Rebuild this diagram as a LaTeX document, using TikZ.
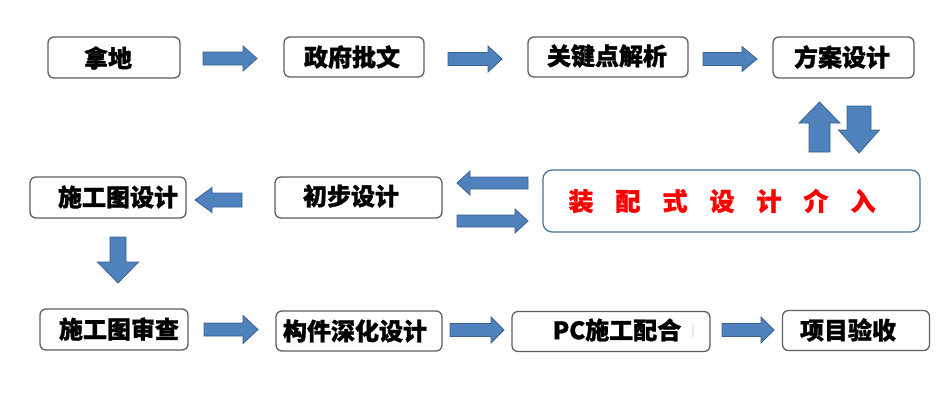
\documentclass[tikz,border=0pt]{standalone}
\usepackage{fontspec}
\newfontfamily\cjk{Noto Sans CJK SC}[BoldFeatures={FakeBold=1.2}]
\definecolor{arrowfill}{RGB}{79,129,189}
\definecolor{arrowline}{RGB}{58,98,145}
\definecolor{boxline}{RGB}{90,96,104}
\definecolor{blueline}{RGB}{65,113,156}
\newcommand\HA[6]{% xtail xbase xtip y bodyhalf headhalf
  \draw[blockarrow] (#1,#4-#5) -- (#2,#4-#5) -- (#2,#4-#6) -- (#3,#4) -- (#2,#4+#6) -- (#2,#4+#5) -- (#1,#4+#5) -- cycle;}
\newcommand\VA[6]{% ytail ybase ytip x bodyhalf headhalf
  \draw[blockarrow] (#4-#5,#1) -- (#4-#5,#2) -- (#4-#6,#2) -- (#4,#3) -- (#4+#6,#2) -- (#4+#5,#2) -- (#4+#5,#1) -- cycle;}
\begin{document}
\begin{tikzpicture}[x=1pt,y=-1pt,
  stepbox/.style={draw=boxline, line width=1.3pt, rounded corners=6pt, fill=white},
  blockarrow/.style={fill=arrowfill, draw=arrowline, line width=0.8pt, line join=miter},
  lbl/.style={font=\cjk\bfseries\fontsize{24}{26}\selectfont, text=black, inner sep=0pt}]
\useasboundingbox[fill=white] (0,0) rectangle (944,413);
% row 1
\node[stepbox, minimum width=132pt, minimum height=41pt] (nadi) at (114,57.5) {};
\node[lbl] (tnadi) at (108,58) {拿地};
\node[stepbox, minimum width=140pt, minimum height=40pt] (zhengfu) at (354,57) {};
\node[lbl] (tzhengfu) at (352,57) {政府批文};
\node[stepbox, minimum width=160pt, minimum height=40pt] (guanjian) at (608,57) {};
\node[lbl] (tguanjian) at (607,56) {关键点解析};
\node[stepbox, minimum width=141pt, minimum height=41pt] (fangan) at (843.5,57.5) {};
\node[lbl] (tfangan) at (842,57) {方案设计};
% row 2
\node[stepbox, minimum width=156pt, minimum height=41pt] (sgtsj) at (108,197.5) {};
\node[lbl] (tsgtsj) at (118,197) {施工图设计};
\node[stepbox, minimum width=167pt, minimum height=41pt] (chubu) at (358.5,197.5) {};
\node[lbl] (tchubu) at (351,196) {初步设计};
\node[draw=blueline, line width=1.2pt, rounded corners=9pt, fill=white, minimum width=377pt, minimum height=62pt] (zpsj) at (731.5,201) {};
\node[font=\cjk\bfseries\fontsize{25}{27}\selectfont, text=red, inner sep=0pt] (tzpsj) at (722,201)
  {装\hspace{22pt}配\hspace{22pt}式\hspace{22pt}设\hspace{22pt}计\hspace{22pt}介\hspace{22pt}入};
% row 3
\node[stepbox, minimum width=148pt, minimum height=41pt] (sgtsc) at (114,329.5) {};
\node[lbl] (tsgtsc) at (119,329) {施工图审查};
\node[stepbox, minimum width=166pt, minimum height=40pt] (goujian) at (359,331) {};
\node[lbl] (tgoujian) at (355,331) {构件深化设计};
\node[stepbox, minimum width=198pt, minimum height=40pt] (pc) at (611,331.5) {};
\node[lbl] (tpc) at (617,330) {PC施工配合};
\node[text=gray!60, font=\fontsize{14}{14}\selectfont, inner sep=0pt] (bar) at (693,331) {|};
\node[stepbox, minimum width=147pt, minimum height=40pt] (yanshou) at (856,330.5) {};
\node[lbl] (tyanshou) at (848,330) {项目验收};
% arrows row 1
\HA{203}{243}{257}{58.5}{6.5}{12.5}
\HA{448}{488}{502}{59}{6.5}{13}
\HA{703}{742}{757}{59}{6.5}{12.5}
% vertical arrows right
\VA{152}{123}{102}{819.5}{10.5}{20.5}
\VA{106}{130}{153}{859}{12}{20.5}
% row 2 arrows
\HA{242}{212}{195}{200}{7}{12.5}
\HA{528}{470}{457}{183}{6}{12}
\HA{457}{515}{528}{221}{6}{12}
% down arrow left
\VA{237}{262}{283}{118}{8}{20.5}
% row 3 arrows
\HA{204}{243}{258}{329.5}{6.5}{14}
\HA{450}{491}{504}{330}{6.5}{13}
\HA{722}{761}{774}{330}{6.5}{13}
\end{tikzpicture}
\end{document}
